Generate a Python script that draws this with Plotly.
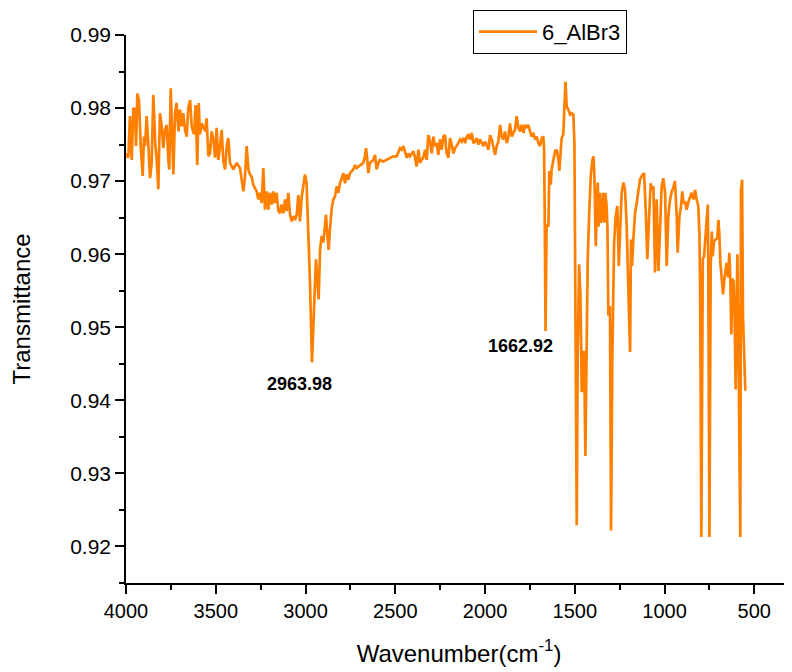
import plotly.graph_objects as go

wavenumber = [
    4000, 3996, 3987, 3978, 3968, 3959, 3950, 3944, 3937, 3928, 3918, 3907, 3900, 3894, 3885, 3876,
    3866, 3857, 3848, 3837, 3829, 3820, 3811, 3801, 3792, 3783, 3773, 3764, 3759, 3751, 3742, 3736,
    3727, 3718, 3708, 3699, 3690, 3681, 3671, 3662, 3653, 3643, 3634, 3621, 3612, 3603, 3595, 3588,
    3578, 3569, 3558, 3551, 3541, 3532, 3523, 3513, 3504, 3495, 3486, 3476, 3467, 3458, 3448, 3439,
    3430, 3421, 3402, 3383, 3365, 3346, 3337, 3328, 3318, 3309, 3300, 3291, 3272, 3263, 3254, 3244,
    3235, 3226, 3216, 3207, 3198, 3188, 3179, 3170, 3161, 3151, 3142, 3133, 3123, 3114, 3105, 3096,
    3086, 3077, 3068, 3058, 3049, 3040, 3031, 3021, 3012, 3003, 2994, 2984, 2975, 2964, 2953, 2942,
    2934, 2927, 2919, 2910, 2901, 2891, 2886, 2878, 2871, 2864, 2854, 2845, 2836, 2826, 2817, 2808,
    2799, 2789, 2780, 2771, 2761, 2752, 2734, 2724, 2715, 2696, 2678, 2669, 2663, 2656, 2650, 2641,
    2622, 2613, 2604, 2594, 2585, 2566, 2548, 2529, 2511, 2492, 2474, 2464, 2455, 2436, 2427, 2418,
    2399, 2390, 2381, 2371, 2362, 2353, 2344, 2334, 2325, 2316, 2306, 2297, 2288, 2279, 2269, 2260,
    2251, 2241, 2232, 2223, 2214, 2204, 2195, 2186, 2176, 2167, 2158, 2149, 2139, 2130, 2121, 2111,
    2102, 2093, 2084, 2074, 2065, 2056, 2046, 2037, 2028, 2019, 2009, 2000, 1991, 1981, 1972, 1963,
    1954, 1944, 1935, 1926, 1916, 1907, 1898, 1889, 1879, 1870, 1861, 1851, 1842, 1833, 1824, 1814,
    1805, 1796, 1786, 1777, 1768, 1759, 1749, 1740, 1731, 1721, 1712, 1703, 1694, 1684, 1675, 1671,
    1667, 1663, 1657, 1647, 1642, 1634, 1629, 1619, 1610, 1601, 1591, 1586, 1579, 1573, 1564, 1558,
    1552, 1545, 1536, 1526, 1517, 1508, 1502, 1497, 1489, 1484, 1476, 1469, 1461, 1456, 1448, 1441,
    1434, 1428, 1419, 1411, 1402, 1396, 1391, 1383, 1378, 1372, 1367, 1359, 1354, 1348, 1341, 1335,
    1330, 1324, 1318, 1313, 1304, 1298, 1291, 1281, 1272, 1263, 1255, 1248, 1239, 1229, 1220, 1211,
    1201, 1192, 1187, 1181, 1174, 1164, 1155, 1146, 1137, 1127, 1114, 1105, 1096, 1086, 1077, 1068,
    1062, 1053, 1044, 1034, 1025, 1016, 1007, 997, 988, 979, 969, 960, 951, 942, 932, 927,
    917, 908, 901, 895, 886, 877, 867, 858, 849, 839, 830, 821, 812, 806, 802, 795,
    787, 780, 774, 769, 759, 756, 750, 743, 737, 732, 724, 715, 706, 700, 695, 689,
    682, 674, 667, 659, 654, 646, 639, 633, 628, 622, 615, 609, 604, 598, 594, 589,
    583, 578, 574, 568, 563, 555, 550,
]

transmittance = [
    0.9738, 0.9736, 0.9732, 0.9789, 0.9729, 0.9800, 0.9798, 0.9748, 0.9820, 0.9811, 0.9748, 0.9707, 0.9761, 0.9748, 0.9789, 0.9752,
    0.9704, 0.9725, 0.9818, 0.9752, 0.9729, 0.9689, 0.9793, 0.9775, 0.9745, 0.9770, 0.9777, 0.9729, 0.9716, 0.9827, 0.9748, 0.9709,
    0.9793, 0.9807, 0.9768, 0.9798, 0.9775, 0.9793, 0.9770, 0.9761, 0.9800, 0.9811, 0.9775, 0.9764, 0.9804, 0.9722, 0.9807, 0.9764,
    0.9779, 0.9773, 0.9768, 0.9786, 0.9734, 0.9738, 0.9768, 0.9757, 0.9732, 0.9773, 0.9729, 0.9748, 0.9770, 0.9727, 0.9716, 0.9748,
    0.9759, 0.9725, 0.9716, 0.9725, 0.9718, 0.9686, 0.9706, 0.9748, 0.9716, 0.9709, 0.9706, 0.9695, 0.9686, 0.9675, 0.9684, 0.9670,
    0.9718, 0.9661, 0.9686, 0.9661, 0.9684, 0.9668, 0.9686, 0.9670, 0.9684, 0.9659, 0.9656, 0.9668, 0.9656, 0.9675, 0.9659, 0.9684,
    0.9654, 0.9645, 0.9652, 0.9647, 0.9654, 0.9681, 0.9645, 0.9679, 0.9697, 0.9709, 0.9697, 0.9638, 0.9561, 0.9452, 0.9538, 0.9593,
    0.9566, 0.9538, 0.9606, 0.9625, 0.9616, 0.9638, 0.9654, 0.9625, 0.9606, 0.9634, 0.9663, 0.9675, 0.9679, 0.9693, 0.9684, 0.9697,
    0.9704, 0.9711, 0.9697, 0.9709, 0.9702, 0.9711, 0.9716, 0.9722, 0.9718, 0.9722, 0.9725, 0.9734, 0.9745, 0.9729, 0.9711, 0.9725,
    0.9729, 0.9736, 0.9716, 0.9725, 0.9729, 0.9727, 0.9729, 0.9731, 0.9734, 0.9734, 0.9745, 0.9743, 0.9748, 0.9732, 0.9738, 0.9734,
    0.9741, 0.9732, 0.9720, 0.9743, 0.9725, 0.9729, 0.9732, 0.9743, 0.9729, 0.9763, 0.9754, 0.9738, 0.9761, 0.9748, 0.9752, 0.9736,
    0.9757, 0.9743, 0.9761, 0.9763, 0.9738, 0.9732, 0.9759, 0.9750, 0.9738, 0.9745, 0.9748, 0.9752, 0.9757, 0.9754, 0.9759, 0.9752,
    0.9761, 0.9763, 0.9757, 0.9766, 0.9752, 0.9754, 0.9759, 0.9750, 0.9757, 0.9752, 0.9748, 0.9754, 0.9750, 0.9743, 0.9763, 0.9757,
    0.9748, 0.9736, 0.9748, 0.9754, 0.9777, 0.9761, 0.9757, 0.9768, 0.9752, 0.9761, 0.9779, 0.9761, 0.9766, 0.9770, 0.9789, 0.9773,
    0.9768, 0.9777, 0.9766, 0.9777, 0.9773, 0.9777, 0.9768, 0.9761, 0.9766, 0.9757, 0.9761, 0.9752, 0.9748, 0.9759, 0.9761, 0.9743,
    0.9640, 0.9495, 0.9640, 0.9638, 0.9714, 0.9695, 0.9716, 0.9727, 0.9741, 0.9743, 0.9729, 0.9714, 0.9748, 0.9759, 0.9764, 0.9811,
    0.9836, 0.9802, 0.9798, 0.9791, 0.9793, 0.9791, 0.9752, 0.9547, 0.9229, 0.9456, 0.9586, 0.9547, 0.9411, 0.9466, 0.9466, 0.9324,
    0.9456, 0.9593, 0.9661, 0.9707, 0.9729, 0.9734, 0.9711, 0.9611, 0.9661, 0.9698, 0.9638, 0.9684, 0.9643, 0.9652, 0.9684, 0.9643,
    0.9684, 0.9670, 0.9638, 0.9516, 0.9529, 0.9222, 0.9456, 0.9616, 0.9652, 0.9666, 0.9584, 0.9638, 0.9684, 0.9698, 0.9688, 0.9638,
    0.9557, 0.9466, 0.9620, 0.9584, 0.9620, 0.9657, 0.9670, 0.9688, 0.9702, 0.9707, 0.9711, 0.9661, 0.9593, 0.9652, 0.9697, 0.9688,
    0.9693, 0.9575, 0.9675, 0.9577, 0.9643, 0.9693, 0.9704, 0.9684, 0.9584, 0.9652, 0.9675, 0.9686, 0.9691, 0.9700, 0.9652, 0.9602,
    0.9652, 0.9666, 0.9686, 0.9670, 0.9672, 0.9661, 0.9672, 0.9679, 0.9684, 0.9675, 0.9688, 0.9675, 0.9666, 0.9629, 0.9561, 0.9213,
    0.9593, 0.9597, 0.9616, 0.9629, 0.9668, 0.9561, 0.9213, 0.9584, 0.9631, 0.9597, 0.9618, 0.9620, 0.9622, 0.9647, 0.9629, 0.9588,
    0.9570, 0.9545, 0.9566, 0.9584, 0.9588, 0.9568, 0.9602, 0.9561, 0.9490, 0.9566, 0.9563, 0.9506, 0.9415, 0.9534, 0.9600, 0.9493,
    0.9333, 0.9213, 0.9688, 0.9702, 0.9515, 0.9452, 0.9413,
]

series_name = "6_AlBr3"
peak_labels = ["2963.98", "1662.92"]
peak_label_x = [3031, 1805]
peak_label_y = [0.9422, 0.9474]

x_ticks = [4000, 3500, 3000, 2500, 2000, 1500, 1000, 500]
y_ticks = [0.92, 0.93, 0.94, 0.95, 0.96, 0.97, 0.98, 0.99]

FONT = "Liberation Sans, Arial, sans-serif"

fig = go.Figure()
fig.add_trace(go.Scatter(
    x=wavenumber, y=transmittance, mode="lines", name=series_name,
    line=dict(color="#FF8000", width=2.7),
))

for txt, xv, yv in zip(peak_labels, peak_label_x, peak_label_y):
    fig.add_annotation(x=xv, y=yv, text="<b>%s</b>" % txt, showarrow=False,
                       font=dict(family=FONT, size=18, color="black"))

fig.update_layout(
    width=784, height=664,
    margin=dict(l=118, r=0, t=27, b=89, autoexpand=False),
    paper_bgcolor="white", plot_bgcolor="white",
    font=dict(family=FONT, color="black"),
    showlegend=True,
    legend=dict(x=0.521, y=1.046, xanchor="left", yanchor="top",
                bordercolor="black", borderwidth=1, bgcolor="white",
                font=dict(family=FONT, size=22, color="black"),
                itemwidth=58, tracegroupgap=0),
    xaxis=dict(
        range=[4000, 290], tickvals=x_ticks, ticktext=[str(v) for v in x_ticks],
        showline=True, linecolor="black", linewidth=1.5, mirror=False,
        ticks="outside", ticklen=9, tickwidth=1.5, tickcolor="black",
        showgrid=False, zeroline=False, automargin=False,
        minor=dict(dtick=250, tick0=0, ticks="outside", ticklen=5, tickwidth=1.5, tickcolor="black", showgrid=False),
        tickfont=dict(family=FONT, size=20, color="black"),
        title=dict(text="Wavenumber(cm<sup>-1</sup>)", font=dict(family=FONT, size=24, color="black"), standoff=24),
    ),
    yaxis=dict(
        range=[0.915, 0.99], tickvals=y_ticks, ticktext=["%.2f" % v for v in y_ticks],
        showline=True, linecolor="black", linewidth=1.5, mirror=False,
        ticks="outside", ticklen=9, tickwidth=1.5, tickcolor="black",
        showgrid=False, zeroline=False, automargin=False,
        minor=dict(dtick=0.005, tick0=0.915, ticks="outside", ticklen=5, tickwidth=1.5, tickcolor="black", showgrid=False),
        tickfont=dict(family=FONT, size=21, color="black"),
        title=dict(text="Transmittance", font=dict(family=FONT, size=24, color="black"), standoff=36),
    ),
)

fig.write_html("out.html")
